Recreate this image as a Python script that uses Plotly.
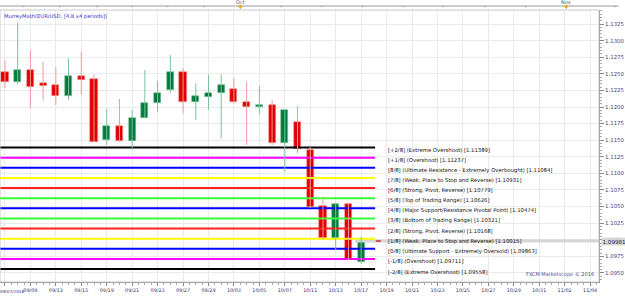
import plotly.graph_objects as go

# ---------------- data ----------------
opens  = [1.12532, 1.12381, 1.12557, 1.12357, 1.12331, 1.12170, 1.12467, 1.12417, 1.11503, 1.11714,
          1.11488, 1.11839, 1.12065, 1.12256, 1.12523, 1.12080, 1.12155, 1.12206, 1.12271, 1.12080,
          1.12000, 1.12026, 1.11453, 1.11779, 1.11352, 1.10509, 1.10023, 1.10539, 1.09670]
highs  = [1.12708, 1.13280, 1.12848, 1.12678, 1.12607, 1.12733, 1.12833, 1.12493, 1.11970, 1.12120,
          1.11955, 1.12557, 1.12392, 1.12783, 1.12583, 1.12357, 1.12493, 1.12493, 1.12432, 1.12381,
          1.12316, 1.12105, 1.11965, 1.12015, 1.11398, 1.10649, 1.10550, 1.10550, 1.10047]
lows   = [1.12282, 1.12342, 1.11980, 1.12095, 1.12030, 1.12105, 1.12181, 1.11470, 1.11428, 1.11477,
          1.11352, 1.11834, 1.11929, 1.12206, 1.11905, 1.11804, 1.11955, 1.11529, 1.12056, 1.11428,
          1.11890, 1.11428, 1.11026, 1.11303, 1.10479, 1.10008, 1.09846, 1.09696, 1.09636]
closes = [1.12381, 1.12557, 1.12297, 1.12321, 1.12170, 1.12467, 1.12411, 1.11477, 1.11714, 1.11488,
          1.11839, 1.12065, 1.12215, 1.12523, 1.12075, 1.12166, 1.12215, 1.12331, 1.12080, 1.12005,
          1.12030, 1.11453, 1.11955, 1.11363, 1.10498, 1.10023, 1.10535, 1.09706, 1.09981]

date_labels = ["09/07/2016", "09/09", "09/13", "09/15", "09/19", "09/21", "09/23", "09/27",
               "09/29", "10/03", "10/05", "10/07", "10/11", "10/13", "10/17", "10/19",
               "10/21", "10/23", "10/25", "10/27", "10/29", "10/31", "11/02", "11/04"]

mm_levels = [1.11389, 1.11237, 1.11084, 1.10931, 1.10779, 1.10626, 1.10474,
             1.10321, 1.10168, 1.10015, 1.09863, 1.09711, 1.09558]
mm_names = ["[+2/8] (Extreme Overshoot)", "[+1/8] (Overshoot)",
            "[8/8] (Ultimate Resistance - Extremely Overbought)",
            "[7/8] (Weak, Place to Stop and Reverse)", "[6/8] (Strong, Pivot, Reverse)",
            "[5/8] (Top of Trading Range)", "[4/8] (Major Support/Resistance Pivotal Point)",
            "[3/8] (Bottom of Trading Range)", "[2/8] (Strong, Pivot, Reverse)",
            "[1/8] (Weak, Place to Stop and Reverse)",
            "[0/8] (Ultimate Support - Extremely Oversold)", "[-1/8] (Overshoot)",
            "[-2/8] (Extreme Overshoot)"]
mm_colors = ["#000000", "#ff00ff", "#0000ff", "#ffff00", "#ff2020", "#33ff33", "#0000ff",
             "#33ff33", "#ff2020", "#ffff00", "#0000ff", "#ff00ff", "#000000"]

y_ticks = [1.0950, 1.0975, 1.1000, 1.1025, 1.1050, 1.1075, 1.1100, 1.1125, 1.1150,
           1.1175, 1.1200, 1.1225, 1.1250, 1.1275, 1.1300, 1.1325]
last_price = 1.09981

# ---------------- figure ----------------
n = len(opens)
idx = list(range(n))
FONT = "DejaVu Sans"
RED, GREEN = "#e00000", "#007a3d"
RED_W, GREEN_W = "#f29a9a", "#7cc39c"

fig = go.Figure()

# current price band
fig.add_trace(go.Scatter(x=[n - 1.5, 50], y=[last_price, last_price], mode="lines",
                         line=dict(color="#d6d6d6", width=3), hoverinfo="skip", showlegend=False))

# Murrey Math lines
for v, c in zip(mm_levels, mm_colors):
    fig.add_trace(go.Scatter(x=[-1, n + 0.1], y=[v, v], mode="lines",
                             line=dict(color=c, width=2), hoverinfo="skip", showlegend=False))

# wicks
for col, wc in ((RED, RED_W), (GREEN, GREEN_W)):
    xs, ys = [], []
    for i in idx:
        up = closes[i] >= opens[i]
        if (col == GREEN) == up:
            xs += [i, i, None]
            ys += [lows[i], highs[i], None]
    fig.add_trace(go.Scatter(x=xs, y=ys, mode="lines", line=dict(color=wc, width=1),
                             hoverinfo="skip", showlegend=False))

# bodies
fig.add_trace(go.Bar(
    x=idx,
    y=[max(abs(c - o), 0.00004) for o, c in zip(opens, closes)],
    base=[min(o, c) for o, c in zip(opens, closes)],
    width=0.56,
    marker=dict(color=[GREEN if c >= o else RED for o, c in zip(opens, closes)],
                line=dict(color=[GREEN_W if c >= o else RED_W for o, c in zip(opens, closes)],
                          width=0.6)),
    showlegend=False, hoverinfo="skip"))

# small current price tick next to last candle
fig.add_trace(go.Scatter(x=[n + 0.15, n + 0.55], y=[last_price, last_price], mode="lines",
                         line=dict(color="#c00000", width=1.2), hoverinfo="skip", showlegend=False))

annotations = []
for v, name, c in zip(mm_levels, mm_names, mm_colors):
    annotations.append(dict(x=n + 0.95, y=v, xref="x", yref="y", xanchor="left",
                            yanchor="middle", yshift=-2.5, showarrow=False,
                            text=f"{name} [{v:.5f}]",
                            font=dict(family=FONT, size=5.3, color="#111111")))

# first date label (left aligned)
annotations.append(dict(x=0, y=0, xref="paper", yref="paper", xanchor="left", yanchor="top",
                        yshift=-5, xshift=-2, showarrow=False, text=date_labels[0],
                        font=dict(family=FONT, size=4.2, color="#333366")))
# current price box
annotations.append(dict(x=1.0, y=last_price, xref="paper", yref="y", xanchor="left",
                        yanchor="middle", xshift=2, showarrow=False, text=f"{last_price:.5f}",
                        bgcolor="#d9d9d9", borderpad=0.5,
                        font=dict(family=FONT, size=5.6, color="#222244")))
# indicator title
annotations.append(dict(x=0.004, y=1.0, xref="paper", yref="paper", xanchor="left",
                        yanchor="top", yshift=-0.5, showarrow=False,
                        text="MurreyMath(EUR/USD, [4,8 x4 periods])",
                        font=dict(family=FONT, size=5.2, color="#3333cc")))
# watermark
annotations.append(dict(x=0.995, y=0.0, xref="paper", yref="paper", xanchor="right",
                        yanchor="bottom", yshift=2, showarrow=False,
                        text="FXCM Marketscope © 2016",
                        font=dict(family=FONT, size=5, color="#4a4a88")))
# navigator labels
for px, lab in ((242, "Oct"), (570, "Nov")):
    annotations.append(dict(x=px / 603, y=1.0, xref="paper", yref="paper", xanchor="center",
                            yanchor="bottom", yshift=3, showarrow=False, text=lab,
                            font=dict(family=FONT, size=5, color="#555555")))

shapes = [
    # plot frame
    dict(type="rect", xref="paper", yref="paper", x0=0, x1=1, y0=0, y1=1,
         line=dict(color="#c8c8c8", width=1), layer="above"),
    # navigator line
    dict(type="line", xref="paper", yref="paper", x0=0.0, x1=1.033, y0=1.0147, y1=1.0147,
         line=dict(color="#9a9a9a", width=1)),
]
for px in (24, 60, 97, 133, 169, 205, 283, 324, 365, 406, 446, 488, 529, 619):
    shapes.append(dict(type="line", xref="paper", yref="paper", x0=px / 603, x1=px / 603,
                       y0=1.0105, y1=1.0147, line=dict(color="#888888", width=1)))
for px in (242, 570):
    shapes.append(dict(type="path", xref="paper", yref="paper",
                       path=f"M {(px-2.5)/603} 1.0165 L {(px+2.5)/603} 1.0165 L {px/603} 1.003 Z",
                       fillcolor="#f0a020", line=dict(width=0)))

fig.update_layout(
    width=625, height=296,
    margin=dict(l=0, r=22, t=10, b=14),
    paper_bgcolor="white", plot_bgcolor="white",
    bargap=0, showlegend=False,
    annotations=annotations, shapes=shapes,
    xaxis=dict(range=[-0.39, 46.7], tickmode="array",
               tickvals=[2 * k for k in range(len(date_labels))],
               ticktext=[""] + date_labels[1:],
               showgrid=True, gridcolor="#ebebeb", gridwidth=1, zeroline=False,
               showline=True, linecolor="#888888", linewidth=1,
               ticks="outside", ticklen=3, tickcolor="#888888",
               minor=dict(tickmode="linear", tick0=0, dtick=0.5, ticks="outside",
                          ticklen=1.5, tickcolor="#aaaaaa", showgrid=False),
               tickfont=dict(family=FONT, size=4.9, color="#333366")),
    yaxis=dict(range=[1.09364, 1.13461], side="right", tickmode="array", tickvals=y_ticks,
               ticktext=["" if abs(v - last_price) < 0.0012 else f"{v:.4f}" for v in y_ticks],
               showgrid=True, gridcolor="#ebebeb", gridwidth=1, zeroline=False,
               showline=True, linecolor="#888888", linewidth=1,
               ticks="outside", ticklen=4, tickcolor="#888888",
               minor=dict(tickmode="linear", tick0=1.0950, dtick=0.0005, ticks="outside",
                          ticklen=2, tickcolor="#aaaaaa", showgrid=False),
               tickfont=dict(family=FONT, size=5.4, color="#44447a")),
)

fig.write_html("out.html")
